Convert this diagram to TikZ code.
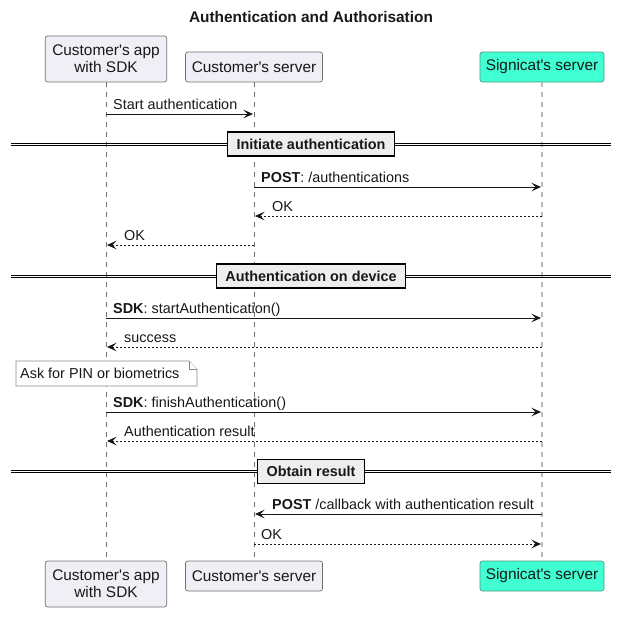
\documentclass[tikz,border=0pt]{standalone}
\usepackage{fontspec}
\setmainfont{Liberation Sans}
\usetikzlibrary{arrows.meta}
\definecolor{partfill}{HTML}{F1EFF6}
\definecolor{partdraw}{HTML}{707070}
\definecolor{sigfill}{HTML}{40FFD2}
\definecolor{sigdraw}{HTML}{4F9A86}
\definecolor{ink}{HTML}{181818}
\definecolor{divfill}{HTML}{EEEEEE}
\definecolor{lifegray}{HTML}{707070}
\definecolor{lifelight}{HTML}{BBBBBB}
\definecolor{notedraw}{HTML}{8A8A8A}
\newcommand{\aps}{\textquotesingle}
\begin{document}
\begin{tikzpicture}[x=1pt,y=-1pt,
  part/.style={draw=partdraw, fill=partfill, rounded corners=2.5pt, line width=0.7pt,
    font=\fontsize{15.4}{16.7}\selectfont, align=center, inner sep=0pt, text=ink},
  sigpart/.style={part, draw=sigdraw, fill=sigfill},
  life/.style={draw=lifegray, line width=0.6pt, dash pattern=on 5pt off 5pt},
  siglife/.style={draw=lifelight, line width=1.6pt, dash pattern=on 5pt off 5pt},
  msg/.style={draw=ink, line width=0.9pt, -{Stealth[length=9.5pt,width=8.5pt,inset=4pt]}, shorten >=1pt},
  ret/.style={msg, dash pattern=on 2pt off 2pt},
  lbl/.style={anchor=base west, inner sep=0pt, font=\fontsize{14.4}{16}\selectfont, text=ink},
  sepline/.style={draw=black, line width=0.8pt},
  divbox/.style={draw=black, line width=1.6pt, fill=divfill, inner xsep=9pt, inner ysep=0pt,
    minimum height=24pt, font=\bfseries\fontsize{14.4}{16}\selectfont, text=ink},
  notebox/.style={draw=notedraw, fill=white, line width=0.7pt}
]
\useasboundingbox (0,0) rectangle (622,621);

% title
\node[font=\bfseries\fontsize{15.4}{17}\selectfont, text=ink] (title) at (311,17) {Authentication and Authorisation};

% participants
\node[part, minimum width=121.5pt, minimum height=46pt] (appTop) at (106,59) {Customer\aps s app\\with SDK};
\node[part, minimum width=137pt, minimum height=30pt] (srvTop) at (254,67) {Customer\aps s server};
\node[sigpart, minimum width=124pt, minimum height=30pt] (sigTop) at (542,67) {Signicat\aps s server};
\node[part, minimum width=121.5pt, minimum height=46pt] (appBot) at (106,584) {Customer\aps s app\\with SDK};
\node[part, minimum width=137pt, minimum height=30pt] (srvBot) at (254,576) {Customer\aps s server};
\node[sigpart, minimum width=124pt, minimum height=30pt] (sigBot) at (542,576) {Signicat\aps s server};

% lifelines
\draw[life] (appTop.south) -- (appBot.north);
\draw[life] (srvTop.south) -- (srvBot.north);
\draw[siglife] (sigTop.south) -- (sigBot.north);

% message coordinates
\foreach \n/\y in {1/114, 2/187, 3/216, 4/245, 5/318, 6/347, 7/412, 8/441, 9/514, 10/544}{
  \coordinate (a\n) at (106,\y);
  \coordinate (s\n) at (254,\y);
  \coordinate (g\n) at (542,\y);
}

% 1
\draw[msg] (a1) -- (s1);
\node[lbl] (l1) at (113,109) {Start authentication};

% divider 1
\draw[sepline] (11,143) -- (611,143);
\draw[sepline] (11,145) -- (611,145);
\node[divbox] (d1) at (311,144) {Initiate authentication};

% 2-4
\draw[msg] (s2) -- (g2);
\node[lbl] (l2) at (261,182) {\textbf{POST}: /authentications};
\draw[ret] (g3) -- (s3);
\node[lbl] (l3) at (272,211) {OK};
\draw[ret] (s4) -- (a4);
\node[lbl] (l4) at (124,240) {OK};

% divider 2
\draw[sepline] (11,275) -- (611,275);
\draw[sepline] (11,277) -- (611,277);
\node[divbox] (d2) at (311,276) {Authentication on device};

% 5-6
\draw[msg] (a5) -- (g5);
\node[lbl] (l5) at (113,313) {\textbf{SDK}: startAuthentication()};
\draw[ret] (g6) -- (a6);
\node[lbl] (l6) at (124,342) {success};

% note
\draw[notebox] (16,361) -- (189,361) -- (197,369) -- (197,386) -- (16,386) -- cycle;
\draw[notebox] (189,361) -- (189,369) -- (197,369);
\node[lbl] (n1) at (20,378.5) {Ask for PIN or biometrics};

% 7-8
\draw[msg] (a7) -- (g7);
\node[lbl] (l7) at (113,407) {\textbf{SDK}: finishAuthentication()};
\draw[ret] (g8) -- (a8);
\node[lbl] (l8) at (124,436) {Authentication result};

% divider 3
\draw[sepline] (11,470.5) -- (611,470.5);
\draw[sepline] (11,472.5) -- (611,472.5);
\node[divbox] (d3) at (311,471.5) {Obtain result};

% 9-10
\draw[msg] (g9) -- (s9);
\node[lbl] (l9) at (272,509) {\textbf{POST} /callback with authentication result};
\draw[ret] (s10) -- (g10);
\node[lbl] (l10) at (261,539) {OK};
\end{tikzpicture}
\end{document}
